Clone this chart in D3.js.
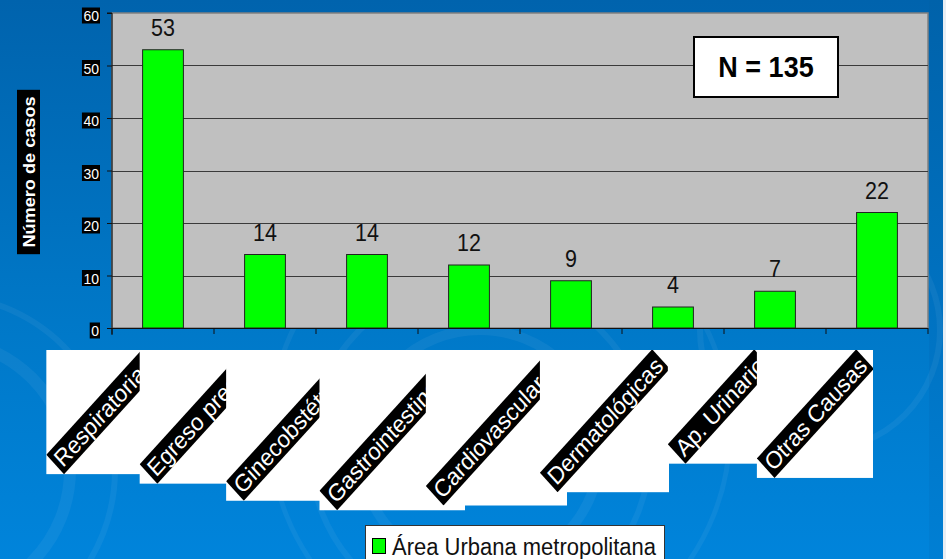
<!DOCTYPE html>
<html>
<head>
<meta charset="utf-8">
<script src="https://cdn.jsdelivr.net/npm/d3@7/dist/d3.min.js"></script>
<style>
  html, body { margin: 0; padding: 0; background: #0074c4; }
  svg { display: block; font-family: "Liberation Sans", Arial, sans-serif; }
</style>
</head>
<body>
<svg id="chart" width="946" height="559"></svg>
<script>
// Chart data
const categories = ["Respiratorias", "Egreso precoz", "Ginecobstétricas", "Gastrointestinales",
                    "Cardiovasculares", "Dermatológicas", "Ap. Urinario", "Otras Causas"];
const casos = [53, 14, 14, 12, 9, 4, 7, 22];
const yTicks = [0, 10, 20, 30, 40, 50, 60];
const seriesName = "Área Urbana metropolitana";
const yTitle = "Número de casos";
const totalLabel = "N = 135";

const W = 946, H = 559;
const plot = { left: 112, right: 928, top: 13, bottom: 328 };
const STRETCH = 1.1; // text is drawn slightly taller than wide

const svg = d3.select("#chart");
const defs = svg.append("defs");

// ---- slide background ----
const bg = defs.append("linearGradient").attr("id", "bgGrad")
  .attr("x1", 0).attr("y1", 0).attr("x2", 0).attr("y2", 1);
bg.append("stop").attr("offset", "0%").attr("stop-color", "#0063ad");
bg.append("stop").attr("offset", "60%").attr("stop-color", "#0079c9");
bg.append("stop").attr("offset", "100%").attr("stop-color", "#0084db");
svg.append("rect").attr("width", W).attr("height", H).attr("fill", "url(#bgGrad)");

const col = defs.append("linearGradient").attr("id", "colGrad")
  .attr("x1", 0).attr("y1", 0).attr("x2", 0).attr("y2", 1);
col.append("stop").attr("offset", "0%").attr("stop-color", "#0062aa");
col.append("stop").attr("offset", "100%").attr("stop-color", "#007fd4");
svg.append("rect").attr("x", 929).attr("y", 0).attr("width", 14).attr("height", H)
  .attr("fill", "url(#colGrad)");
svg.append("rect").attr("x", 943).attr("y", 0).attr("width", 3).attr("height", H)
  .attr("fill", "#e8eef4");

// faint swirl arcs
const swirls = svg.append("g").attr("fill", "none");
[[480, 450, 120, 10], [480, 450, 170, 6], [500, 430, 230, 5], [-60, 470, 130, 12], [-60, 470, 175, 6], [820, 330, 120, 6]]
  .forEach(([cx, cy, r, w]) => {
    swirls.append("circle").attr("cx", cx).attr("cy", cy).attr("r", r)
      .attr("stroke", "rgba(255,255,255,0.05)").attr("stroke-width", w);
  });

// ---- scales ----
const x = d3.scaleBand().domain(categories).range([plot.left, plot.right]).padding(0);
const y = d3.scaleLinear().domain([0, 60]).range([plot.bottom, plot.top]);
const barW = x.bandwidth() * 0.4;

// ---- plot area ----
svg.append("rect")
  .attr("x", plot.left).attr("y", plot.top)
  .attr("width", plot.right - plot.left).attr("height", plot.bottom - plot.top)
  .attr("fill", "#c0c0c0").attr("stroke", "#808080").attr("stroke-width", 1.5);

svg.append("g").selectAll("line")
  .data(yTicks.filter(t => t > 0 && t < 60))
  .join("line")
  .attr("x1", plot.left).attr("x2", plot.right)
  .attr("y1", d => Math.round(y(d)) + 0.5).attr("y2", d => Math.round(y(d)) + 0.5)
  .attr("stroke", "#3a3a3a").attr("stroke-width", 1);

// ---- bars ----
svg.append("g").selectAll("rect")
  .data(categories)
  .join("rect")
  .attr("x", (d) => x(d) + x.bandwidth() / 2 - barW / 2)
  .attr("y", (d, i) => y(casos[i]))
  .attr("width", barW)
  .attr("height", (d, i) => y(0) - y(casos[i]))
  .attr("fill", "#00ff00").attr("stroke", "#222").attr("stroke-width", 1);

// value labels
svg.append("g").selectAll("text")
  .data(categories)
  .join("text")
  .attr("transform", (d, i) => `translate(${x(d) + x.bandwidth() / 2},${y(casos[i]) - 14}) scale(1,${STRETCH})`)
  .attr("text-anchor", "middle")
  .attr("font-size", 21.5)
  .attr("fill", "#111")
  .text((d, i) => casos[i]);

// ---- axes ----
const yAxis = d3.axisLeft(y).tickValues(yTicks).tickSize(5).tickFormat("");
svg.append("g").attr("transform", `translate(${plot.left},0)`).call(yAxis)
  .call(g => g.select(".domain").attr("stroke", "#111").attr("d", `M-5,${plot.top}H0V${plot.bottom + 7}`))
  .call(g => g.selectAll(".tick line").attr("stroke", "#111"));

const xAxisG = svg.append("g");
xAxisG.append("line")
  .attr("x1", plot.left - 5).attr("x2", plot.right)
  .attr("y1", plot.bottom + 0.5).attr("y2", plot.bottom + 0.5)
  .attr("stroke", "#111");
xAxisG.selectAll("line.tk")
  .data(categories.map(c => x(c)).concat([plot.right]))
  .join("line").attr("class", "tk")
  .attr("x1", d => d).attr("x2", d => d)
  .attr("y1", plot.bottom).attr("y2", plot.bottom + 6)
  .attr("stroke", "#111");

// y tick labels: white on black boxes
const yLab = svg.append("g").selectAll("g").data(yTicks).join("g");
yLab.each(function (t) {
  const g = d3.select(this);
  const cy = y(t) + 2.5;
  const box = g.append("rect").attr("fill", "#000");
  const txt = g.append("text")
    .attr("transform", `translate(99,${cy + 5.5}) scale(1,${STRETCH})`)
    .attr("text-anchor", "end").attr("font-size", 14).attr("fill", "#fff")
    .text(t);
  const tw = txt.node().getComputedTextLength();
  box.attr("x", 99 - tw - 1.5).attr("y", cy - 8).attr("width", tw + 2.5).attr("height", 16);
});

// y axis title
const yt = svg.append("g").attr("transform", `translate(28.5,172) scale(1,${STRETCH}) rotate(-90)`);
const ytBox = yt.append("rect").attr("fill", "#000");
const ytText = yt.append("text").attr("text-anchor", "middle").attr("y", 6.5)
  .attr("font-size", 16.5).attr("font-weight", "bold").attr("fill", "#fff").text(yTitle);
{
  const tw = ytText.node().getComputedTextLength();
  ytBox.attr("x", -tw / 2 - 6).attr("y", -11.5).attr("width", tw + 12).attr("height", 23);
}

// ---- rotated category labels (white panel + black strip) ----
const LABEL_TOP = 350, STRIP_H = 25, FS = 22;
const c45 = Math.SQRT1_2;
const labels = svg.append("g").selectAll("g.lab").data(categories).join("g").attr("class", "lab");
labels.each(function (cat, i) {
  const g = d3.select(this);
  const cx = x(cat) + x.bandwidth() / 2;
  const ax = cx - 12, ay = 359;
  const panel = g.append("rect").attr("fill", "#fff");
  const clipId = "lc" + i;
  const clipRect = defs.append("clipPath").attr("id", clipId).attr("clipPathUnits", "userSpaceOnUse")
    .append("rect");
  const inner = g.append("g").attr("clip-path", `url(#${clipId})`)
    .append("g").attr("transform", `translate(${ax},${ay}) scale(1,${STRETCH}) rotate(-45)`);
  const strip = inner.append("rect").attr("fill", "#000");
  const txt = inner.append("text").attr("text-anchor", "end").attr("x", -3).attr("y", 8)
    .attr("font-size", FS).attr("fill", "#fff").text(cat);
  const L = txt.node().getComputedTextLength() + 6;
  strip.attr("x", -L).attr("y", -STRIP_H / 2).attr("width", L).attr("height", STRIP_H);
  // corners of the strip in page coordinates
  const pts = [[-L, -STRIP_H / 2], [0, -STRIP_H / 2], [0, STRIP_H / 2], [-L, STRIP_H / 2]]
    .map(([px, py]) => [ax + (px + py) * c45, ay + STRETCH * (py - px) * c45]);
  const minX = d3.min(pts, p => p[0]);
  const maxY = d3.max(pts, p => p[1]);
  const right = cx - 4;
  panel.attr("x", minX).attr("y", LABEL_TOP).attr("width", right - minX).attr("height", maxY - LABEL_TOP);
  clipRect.attr("x", minX).attr("y", LABEL_TOP).attr("width", right - minX).attr("height", maxY - LABEL_TOP);
});

// ---- N box ----
svg.append("rect").attr("x", 694).attr("y", 37).attr("width", 144).attr("height", 60)
  .attr("fill", "#fff").attr("stroke", "#000").attr("stroke-width", 2);
svg.append("text")
  .attr("transform", `translate(766,77) scale(1,${STRETCH})`)
  .attr("text-anchor", "middle").attr("font-size", 27).attr("font-weight", "bold")
  .attr("fill", "#000").text(totalLabel);

// ---- legend ----
const lg = svg.append("g");
lg.append("rect").attr("x", 365.5).attr("y", 525.5).attr("width", 299).attr("height", 40)
  .attr("fill", "#fff").attr("stroke", "#333");
lg.append("rect").attr("x", 372.5).attr("y", 538.5).attr("width", 13).attr("height", 15)
  .attr("fill", "#00ff00").attr("stroke", "#000");
lg.append("text").attr("transform", `translate(392,555) scale(1,${STRETCH})`)
  .attr("font-size", 22).attr("fill", "#111").text(seriesName);
</script>
</body>
</html>
